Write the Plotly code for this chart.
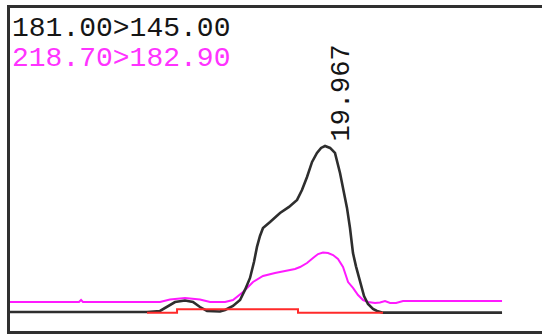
import plotly.graph_objects as go

# Retention time (min) and relative intensity for each MRM channel
black_time = [17.342, 18.484, 18.592, 18.659, 18.717, 18.800, 18.867, 18.925, 18.984,
              19.092, 19.134, 19.200, 19.259, 19.300, 19.342, 19.375, 19.400, 19.425,
              19.450, 19.509, 19.592, 19.667, 19.734, 19.775, 19.817, 19.859, 19.900,
              19.934, 19.967, 20.009, 20.050, 20.092, 20.125, 20.150, 20.175, 20.200,
              20.225, 20.259, 20.292, 20.325, 20.367, 20.400, 20.450, 21.442]
black_int = [0, 0, 0.6, 3.6, 6.0, 6.9, 6.0, 3.0, 0.6,
             0.3, 1.2, 3.6, 7.2, 13.3, 20.5, 30.1, 39.2, 45.8,
             50.6, 54.2, 59.6, 63.3, 67.5, 73.5, 81.3, 90.4, 95.8,
             98.8, 100, 98.8, 95.8, 83.7, 72.3, 62.7, 50.6, 35.5,
             27.5, 17.5, 9.6, 4.8, 1.8, 0.6, -0.4, -0.4]

pink_time = [17.342, 17.917, 17.934, 17.950, 18.592, 18.675, 18.800, 18.925, 19.009,
             19.134, 19.200, 19.284, 19.367, 19.450, 19.550, 19.650, 19.717, 19.759,
             19.817, 19.867, 19.909, 19.950, 19.992, 20.034, 20.075, 20.117, 20.159,
             20.200, 20.242, 20.284, 20.325, 20.384, 20.425, 20.467, 20.509, 20.559,
             20.617, 21.442]
pink_int = [6.0, 6.0, 7.2, 6.0, 6.0, 7.5, 8.4, 7.5, 6.0,
            6.0, 7.2, 12.0, 18.1, 21.7, 23.5, 24.7, 25.9, 27.1,
            29.5, 32.5, 34.9, 35.8, 35.5, 34.3, 31.9, 27.1, 18.0,
            14.5, 10.2, 7.2, 6.0, 5.4, 5.7, 6.6, 5.4, 5.4,
            6.6, 6.6]

# Integration baseline under the peak
base_time = [18.484, 18.734, 19.742, 20.450]
base_int = [-0.4, 1.6, -0.4, -0.4]

channel_labels = ["181.00>145.00", "218.70>182.90"]
peak_rt = 19.967
peak_height = 100

fig = go.Figure()
fig.add_trace(go.Scatter(x=pink_time, y=pink_int, mode="lines",
                         line=dict(color="#ff1aff", width=2)))
fig.add_trace(go.Scatter(x=black_time, y=black_int, mode="lines",
                         line=dict(color="#2e2e2e", width=2.6)))
fig.add_trace(go.Scatter(x=base_time, y=base_int, mode="lines",
                         line=dict(color="#ff2a2a", width=2, shape="hv")))

mono = "Liberation Mono"
fig.add_annotation(x=0, y=0.938, xref="paper", yref="paper", xanchor="left",
                   yanchor="middle", text=channel_labels[0], showarrow=False,
                   font=dict(family=mono, size=28, color="#151515"))
fig.add_annotation(x=0, y=0.845, xref="paper", yref="paper", xanchor="left",
                   yanchor="middle", text=channel_labels[1], showarrow=False,
                   font=dict(family=mono, size=28, color="#ff33ff"))
fig.add_annotation(x=peak_rt, y=peak_height, xref="x", yref="y", text=f"{peak_rt:.3f}",
                   textangle=-90, showarrow=False, xanchor="center", yanchor="bottom",
                   xshift=17, yshift=2,
                   font=dict(family=mono, size=27, color="#151515"))

fig.update_layout(
    width=542, height=334,
    margin=dict(l=10, r=0, t=8, b=3),
    paper_bgcolor="white", plot_bgcolor="white",
    showlegend=False,
)
fig.update_xaxes(range=[17.342, 21.775], showgrid=False, zeroline=False,
                 showticklabels=False, ticks="", showline=True, mirror=True,
                 linecolor="#303030", linewidth=2.6)
fig.update_yaxes(range=[-11.45, 183.1], showgrid=False, zeroline=False,
                 showticklabels=False, ticks="", showline=True, mirror=False,
                 linecolor="#303030", linewidth=2.6)

fig.write_html("out.html")
